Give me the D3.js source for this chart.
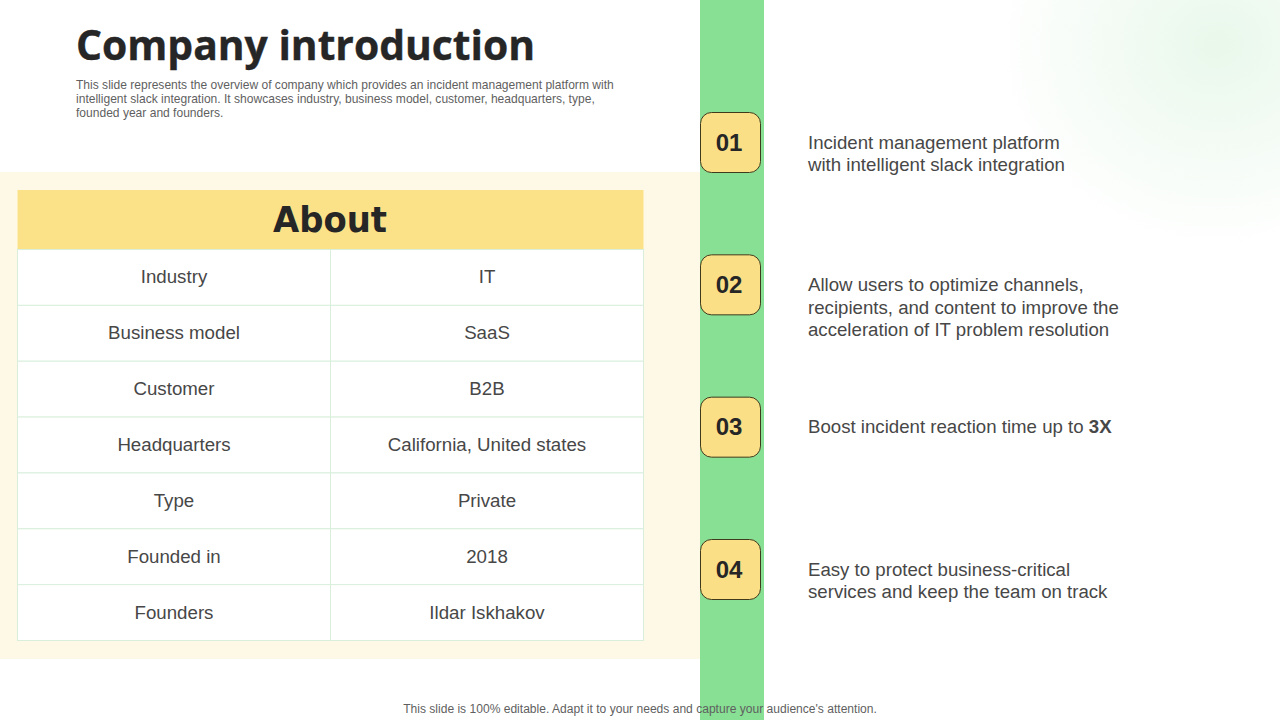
<!DOCTYPE html>
<html><head><meta charset="utf-8">
<script src="https://cdn.jsdelivr.net/npm/d3@7"></script>
<style>html,body{margin:0;padding:0;background:#fff;overflow:hidden}svg{display:block}text{font-family:"Liberation Sans",Arial,sans-serif}</style>
</head><body><svg id="c" width="1280" height="720"></svg>
<script>
const titleText = "Company introduction";
const subtitleLines = [
 "This slide represents the overview of company which provides an incident management platform with",
 "intelligent slack integration. It showcases industry, business model, customer, headquarters, type,",
 "founded year and founders."];
const tableHeader = "About";
const rowLabels = ["Industry","Business model","Customer","Headquarters","Type","Founded in","Founders"];
const rowValues = ["IT","SaaS","B2B","California, United states","Private","2018","Ildar Iskhakov"];
const stepNumbers = ["01","02","03","04"];
const stepTexts = [
 [["Incident management platform"],["with intelligent slack integration"]],
 [["Allow users to optimize channels,"],["recipients, and content to improve the"],["acceleration of IT problem resolution"]],
 [["Boost incident reaction time up to ","3X"]],
 [["Easy to protect business-critical"],["services and keep the team on track"]]];
const footerText = "This slide is 100% editable. Adapt it to your needs and capture your audience's attention.";

const svg = d3.select("#c");
const defs = svg.append("defs");
const glow = defs.append("radialGradient").attr("id","glow");
glow.append("stop").attr("offset","0%").attr("stop-color","#e9f8eb");
glow.append("stop").attr("offset","45%").attr("stop-color","#f3fbf4");
glow.append("stop").attr("offset","100%").attr("stop-color","#ffffff");

svg.append("ellipse").attr("cx",1218).attr("cy",45).attr("rx",225).attr("ry",205).attr("fill","url(#glow)");
svg.append("rect").attr("x",0).attr("y",172).attr("width",700).attr("height",487).attr("fill","#fef8e6");
svg.append("rect").attr("x",700).attr("y",0).attr("width",64).attr("height",720).attr("fill","#88e094");

svg.append("text").text(titleText).attr("x",76).attr("y",60)
  .attr("font-size",42).attr("font-weight",700).attr("fill","#262626")
  .attr("stroke","#262626").attr("stroke-width",0.4)
  .style("font-family","'Open Sans'").attr("textLength",459).attr("lengthAdjust","spacingAndGlyphs");

svg.append("g").selectAll("text").data(subtitleLines).join("text")
  .text(d=>d).attr("x",76).attr("y",(d,i)=>89+i*14)
  .attr("font-size",12.05).attr("fill","#5f5f5f");

// table
const x0 = 17.5, x1 = 643.5;
const y = d3.scaleBand().domain(rowLabels).range([249,640]);
const col = d3.scaleBand().domain([0,1]).range([x0,x1]);
svg.append("rect").attr("x",x0).attr("y",190).attr("width",x1-x0).attr("height",59).attr("fill","#fbe187");
svg.append("text").text(tableHeader).attr("x",330).attr("y",232).attr("text-anchor","middle")
  .attr("font-size",36).attr("font-weight",700).attr("fill","#262626")
  .style("font-family","'DejaVu Sans'").attr("textLength",114).attr("lengthAdjust","spacingAndGlyphs");

const rows = svg.append("g").selectAll("g").data(rowLabels.map((l,i)=>[l,rowValues[i]])).join("g")
  .attr("transform",d=>`translate(0,${y(d[0])})`);
rows.selectAll("rect").data(d=>d.map((t,i)=>({t,i}))).join("rect")
  .attr("x",d=>col(d.i)).attr("y",.5).attr("width",col.bandwidth()).attr("height",y.bandwidth())
  .attr("fill","#fff").attr("stroke","#d9efdc").attr("stroke-width",1);
rows.selectAll("text").data(d=>d.map((t,i)=>({t,i}))).join("text")
  .text(d=>d.t).attr("x",d=>col(d.i)+col.bandwidth()/2).attr("y",y.bandwidth()/2+6.5)
  .attr("text-anchor","middle").attr("font-size",18.7).attr("fill","#474747");

// steps
const sy = d3.scalePoint().domain(stepNumbers).range([142.5,569.5]);
const steps = svg.append("g").selectAll("g").data(stepNumbers.map((n,i)=>({n,lines:stepTexts[i]}))).join("g")
  .attr("transform",d=>`translate(0,${sy(d.n)})`);
steps.append("rect").attr("x",700.5).attr("y",-30).attr("width",60).attr("height",60).attr("rx",11)
  .attr("fill","#fbdf86").attr("stroke","#3f3a1c").attr("stroke-width",1);
steps.append("text").text(d=>d.n).attr("x",729).attr("y",8).attr("text-anchor","middle")
  .attr("font-size",24).attr("font-weight",700).attr("fill","#262626");
steps.each(function(d){
  const g = d3.select(this);
  const t = g.append("text").attr("font-size",18.65).attr("fill","#474747");
  d.lines.forEach((ln,i)=>{
    ln.forEach((part,j)=>{
      const s = t.append("tspan").text(part);
      if(j===0) s.attr("x",808).attr("y",6+i*22.7);
      if(j===1) s.attr("font-weight",700);
    });
  });
});

svg.append("text").text(footerText).attr("x",640).attr("y",713).attr("text-anchor","middle")
  .attr("font-size",12.07).attr("fill","#5f5f5f");
</script></body></html>
